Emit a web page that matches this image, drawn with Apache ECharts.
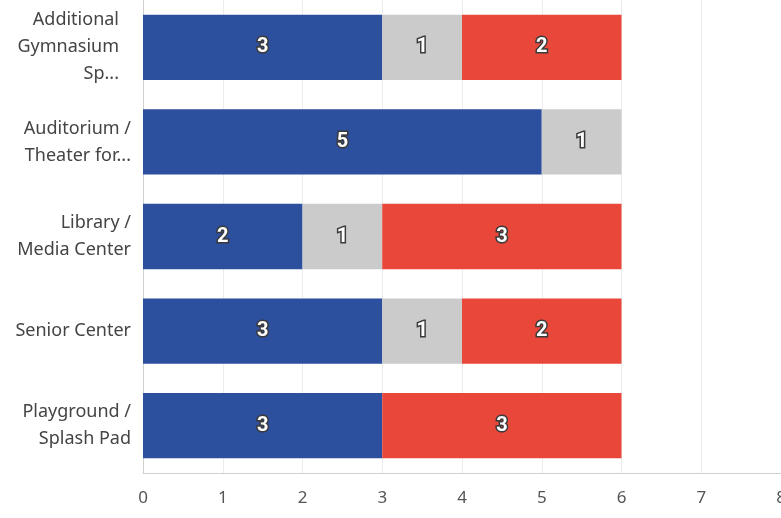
<!DOCTYPE html>
<html>
<head>
<meta charset="utf-8">
<script src="https://cdn.jsdelivr.net/npm/echarts@6/dist/echarts.min.js"></script>
<style>
  html, body { margin: 0; padding: 0; background: #fff; }
  #chart { width: 781px; height: 518px; }
</style>
</head>
<body>
<div id="chart"></div>
<script>
  // categories top to bottom
  var categories = [
    'Additional\nGymnasium\nSp...',
    'Auditorium /\nTheater for...',
    'Library /\nMedia Center',
    'Senior Center',
    'Playground /\nSplash Pad'
  ];
  var blueVals = [3, 5, 2, 3, 3];
  var grayVals = [1, 1, 1, 1, 0];
  var redVals = [2, 0, 3, 2, 3];
  var xTicks = [0, 1, 2, 3, 4, 5, 6, 7, 8];

  var chart = echarts.init(document.getElementById('chart'));

  var labelStyle = {
    show: true,
    position: 'inside',
    color: '#fff',
    fontSize: 20,
    fontWeight: 'bold',
    fontFamily: 'Roboto',
    textBorderColor: '#3a3a3a',
    textBorderWidth: 3,
    formatter: function (p) { return p.value ? p.value : ''; }
  };

  function mkSeries(name, vals, color) {
    return {
      name: name,
      type: 'bar',
      stack: 'all',
      barWidth: '69%',
      data: vals,
      itemStyle: { color: color },
      label: labelStyle,
      silent: true
    };
  }

  // first label sits a bit further left in the original
  var yData = categories.map(function (c, i) {
    return i === 0 ? { value: c, textStyle: { padding: [0, 12, 0, 0] } } : c;
  });

  chart.setOption({
    animation: false,
    grid: { left: 143, right: 0, top: 0, bottom: 45, outerBoundsMode: 'none' },
    xAxis: {
      type: 'value',
      min: xTicks[0],
      max: xTicks[xTicks.length - 1],
      interval: 1,
      axisLine: { show: true, lineStyle: { color: '#d0d0d0' } },
      axisTick: { show: false },
      splitLine: { show: true, lineStyle: { color: '#ececec' } },
      axisLabel: { color: '#555', fontSize: 17, fontFamily: 'Noto Sans', margin: 17 }
    },
    yAxis: {
      type: 'category',
      inverse: true,
      data: yData,
      axisLine: { show: true, lineStyle: { color: '#d0d0d0' } },
      axisTick: { show: false },
      axisLabel: {
        color: '#444',
        fontSize: 18,
        fontFamily: 'Noto Sans',
        lineHeight: 27,
        align: 'right',
        margin: 12
      }
    },
    series: [
      mkSeries('A', blueVals, '#2c4f9e'),
      mkSeries('B', grayVals, '#cbcbcb'),
      mkSeries('C', redVals, '#e9473a')
    ]
  });
</script>
</body>
</html>
